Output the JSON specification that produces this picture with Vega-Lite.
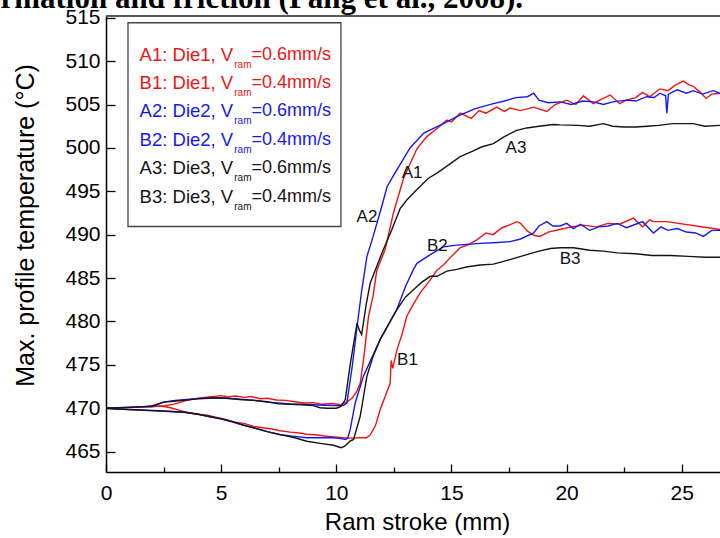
{
  "$schema": "https://vega.github.io/schema/vega-lite/v6.json",
  "width": 614,
  "height": 456,
  "autosize": "none",
  "padding": {"left": 106, "top": 16, "right": 0, "bottom": 66},
  "background": "white",
  "config": {"view": {"stroke": null}, "font": "Liberation Sans"},
  "datasets": {
    "curves": [
      {"s":"A1","x":0,"t":470.0},{"s":"A1","x":0.5,"t":470.05},{"s":"A1","x":1,"t":470.1},{"s":"A1","x":1.5,"t":470.15},{"s":"A1","x":2,"t":470.2},{"s":"A1","x":2.5,"t":470.25},{"s":"A1","x":3,"t":470.5},{"s":"A1","x":3.5,"t":470.9},{"s":"A1","x":4,"t":471.15},{"s":"A1","x":4.5,"t":471.3},{"s":"A1","x":5,"t":471.45},{"s":"A1","x":5.3,"t":471.3},{"s":"A1","x":5.6,"t":471.4},{"s":"A1","x":6,"t":471.25},{"s":"A1","x":6.3,"t":471.35},{"s":"A1","x":6.7,"t":471.1},{"s":"A1","x":7,"t":471.15},{"s":"A1","x":7.4,"t":470.95},{"s":"A1","x":7.8,"t":470.9},{"s":"A1","x":8.2,"t":470.75},{"s":"A1","x":8.6,"t":470.6},{"s":"A1","x":9,"t":470.65},{"s":"A1","x":9.4,"t":470.45},{"s":"A1","x":9.8,"t":470.55},{"s":"A1","x":10.2,"t":470.4},{"s":"A1","x":10.5,"t":470.8},{"s":"A1","x":10.7,"t":471.2},{"s":"A1","x":10.9,"t":472.0},{"s":"A1","x":11.04,"t":472.9},{"s":"A1","x":11.2,"t":476.0},{"s":"A1","x":11.4,"t":480.6},{"s":"A1","x":11.6,"t":483.0},{"s":"A1","x":11.76,"t":485.9},{"s":"A1","x":12.12,"t":488.3},{"s":"A1","x":12.48,"t":492.5},{"s":"A1","x":12.92,"t":496.5},{"s":"A1","x":13.5,"t":499.9},{"s":"A1","x":13.93,"t":501.3},{"s":"A1","x":14.4,"t":502.3},{"s":"A1","x":14.8,"t":503.2},{"s":"A1","x":15.0,"t":503.0},{"s":"A1","x":15.38,"t":504.0},{"s":"A1","x":15.86,"t":503.4},{"s":"A1","x":16.2,"t":504.3},{"s":"A1","x":16.5,"t":504.0},{"s":"A1","x":16.97,"t":504.7},{"s":"A1","x":17.3,"t":504.2},{"s":"A1","x":17.55,"t":504.6},{"s":"A1","x":18.0,"t":504.3},{"s":"A1","x":18.57,"t":504.7},{"s":"A1","x":19.14,"t":504.2},{"s":"A1","x":19.5,"t":505.0},{"s":"A1","x":20.0,"t":505.5},{"s":"A1","x":20.4,"t":505.0},{"s":"A1","x":20.73,"t":506.0},{"s":"A1","x":21.16,"t":505.1},{"s":"A1","x":21.5,"t":505.6},{"s":"A1","x":21.89,"t":506.1},{"s":"A1","x":22.3,"t":505.1},{"s":"A1","x":22.6,"t":505.5},{"s":"A1","x":23.0,"t":505.8},{"s":"A1","x":23.3,"t":506.4},{"s":"A1","x":23.6,"t":505.9},{"s":"A1","x":24.05,"t":506.8},{"s":"A1","x":24.4,"t":506.6},{"s":"A1","x":24.7,"t":507.2},{"s":"A1","x":25.07,"t":507.7},{"s":"A1","x":25.3,"t":507.3},{"s":"A1","x":25.5,"t":507.1},{"s":"A1","x":25.8,"t":506.4},{"s":"A1","x":26.06,"t":505.7},{"s":"A1","x":26.3,"t":506.2},{"s":"A1","x":26.66,"t":506.3},

      {"s":"B1","x":0,"t":470.0},{"s":"B1","x":0.5,"t":470.05},{"s":"B1","x":1,"t":470.1},{"s":"B1","x":1.5,"t":470.15},{"s":"B1","x":2,"t":470.2},{"s":"B1","x":2.4,"t":470.25},{"s":"B1","x":2.8,"t":470.05},{"s":"B1","x":3.2,"t":469.75},{"s":"B1","x":3.6,"t":469.45},{"s":"B1","x":4,"t":469.3},{"s":"B1","x":4.4,"t":469.2},{"s":"B1","x":4.8,"t":468.95},{"s":"B1","x":5.2,"t":468.7},{"s":"B1","x":5.6,"t":468.4},{"s":"B1","x":6,"t":468.25},{"s":"B1","x":6.41,"t":467.9},{"s":"B1","x":6.8,"t":467.75},{"s":"B1","x":7.2,"t":467.6},{"s":"B1","x":7.57,"t":467.4},{"s":"B1","x":8,"t":467.25},{"s":"B1","x":8.4,"t":467.15},{"s":"B1","x":8.72,"t":467.0},{"s":"B1","x":9.1,"t":466.95},{"s":"B1","x":9.5,"t":466.8},{"s":"B1","x":9.88,"t":466.7},{"s":"B1","x":10.3,"t":466.6},{"s":"B1","x":10.6,"t":466.55},{"s":"B1","x":11.0,"t":466.6},{"s":"B1","x":11.3,"t":466.6},{"s":"B1","x":11.47,"t":466.9},{"s":"B1","x":11.7,"t":468.0},{"s":"B1","x":11.9,"t":469.8},{"s":"B1","x":12.1,"t":471.2},{"s":"B1","x":12.34,"t":472.9},{"s":"B1","x":12.38,"t":475.5},{"s":"B1","x":12.45,"t":474.6},{"s":"B1","x":12.63,"t":476.7},{"s":"B1","x":12.85,"t":478.5},{"s":"B1","x":13.06,"t":480.6},{"s":"B1","x":13.35,"t":482.0},{"s":"B1","x":13.64,"t":483.3},{"s":"B1","x":14.0,"t":484.5},{"s":"B1","x":14.37,"t":485.9},{"s":"B1","x":14.65,"t":486.5},{"s":"B1","x":15.0,"t":487.5},{"s":"B1","x":15.38,"t":488.5},{"s":"B1","x":15.7,"t":488.8},{"s":"B1","x":16.1,"t":489.4},{"s":"B1","x":16.5,"t":490.2},{"s":"B1","x":16.8,"t":490.0},{"s":"B1","x":17.2,"t":490.8},{"s":"B1","x":17.5,"t":491.1},{"s":"B1","x":17.84,"t":491.5},{"s":"B1","x":18.0,"t":491.3},{"s":"B1","x":18.3,"t":490.4},{"s":"B1","x":18.6,"t":489.9},{"s":"B1","x":18.85,"t":489.8},{"s":"B1","x":19.2,"t":490.3},{"s":"B1","x":19.7,"t":490.6},{"s":"B1","x":20.2,"t":490.9},{"s":"B1","x":20.7,"t":491.1},{"s":"B1","x":21.3,"t":490.9},{"s":"B1","x":21.8,"t":491.3},{"s":"B1","x":22.3,"t":491.2},{"s":"B1","x":22.9,"t":491.9},{"s":"B1","x":23.3,"t":490.9},{"s":"B1","x":23.6,"t":491.7},{"s":"B1","x":23.77,"t":491.5},{"s":"B1","x":24.35,"t":491.5},{"s":"B1","x":26.66,"t":490.6},

      {"s":"A2","x":0,"t":470.0},{"s":"A2","x":0.5,"t":470.0},{"s":"A2","x":1,"t":470.1},{"s":"A2","x":1.5,"t":470.15},{"s":"A2","x":2,"t":470.3},{"s":"A2","x":2.5,"t":470.7},{"s":"A2","x":3,"t":470.9},{"s":"A2","x":3.5,"t":471.0},{"s":"A2","x":4,"t":471.1},{"s":"A2","x":4.5,"t":471.15},{"s":"A2","x":5,"t":471.2},{"s":"A2","x":5.5,"t":471.1},{"s":"A2","x":6,"t":471.0},{"s":"A2","x":6.5,"t":470.9},{"s":"A2","x":7,"t":470.7},{"s":"A2","x":7.5,"t":470.6},{"s":"A2","x":8,"t":470.5},{"s":"A2","x":8.5,"t":470.45},{"s":"A2","x":9,"t":470.4},{"s":"A2","x":9.5,"t":470.35},{"s":"A2","x":10,"t":470.3},{"s":"A2","x":10.3,"t":470.3},{"s":"A2","x":10.46,"t":470.6},{"s":"A2","x":10.7,"t":475.0},{"s":"A2","x":10.9,"t":479.4},{"s":"A2","x":11.1,"t":483.5},{"s":"A2","x":11.33,"t":487.5},{"s":"A2","x":11.6,"t":489.8},{"s":"A2","x":12.0,"t":493.5},{"s":"A2","x":12.2,"t":495.5},{"s":"A2","x":12.48,"t":496.8},{"s":"A2","x":13.2,"t":500.0},{"s":"A2","x":13.8,"t":501.7},{"s":"A2","x":14.65,"t":502.8},{"s":"A2","x":15.3,"t":503.7},{"s":"A2","x":16.0,"t":504.5},{"s":"A2","x":16.82,"t":505.1},{"s":"A2","x":17.3,"t":505.4},{"s":"A2","x":17.8,"t":505.8},{"s":"A2","x":18.3,"t":505.9},{"s":"A2","x":18.57,"t":506.3},{"s":"A2","x":18.8,"t":505.5},{"s":"A2","x":19.2,"t":505.2},{"s":"A2","x":19.72,"t":505.3},{"s":"A2","x":20.2,"t":505.0},{"s":"A2","x":20.7,"t":505.4},{"s":"A2","x":21.16,"t":505.3},{"s":"A2","x":21.6,"t":505.0},{"s":"A2","x":22.0,"t":505.3},{"s":"A2","x":22.61,"t":505.5},{"s":"A2","x":23.0,"t":505.4},{"s":"A2","x":23.48,"t":505.9},{"s":"A2","x":23.8,"t":505.8},{"s":"A2","x":24.05,"t":506.3},{"s":"A2","x":24.3,"t":506.0},{"s":"A2","x":24.35,"t":504.0},{"s":"A2","x":24.42,"t":506.2},{"s":"A2","x":24.8,"t":506.7},{"s":"A2","x":25.2,"t":506.3},{"s":"A2","x":25.5,"t":506.6},{"s":"A2","x":25.9,"t":506.2},{"s":"A2","x":26.37,"t":506.6},{"s":"A2","x":26.66,"t":506.3},

      {"s":"B2","x":0,"t":470.0},{"s":"B2","x":0.5,"t":469.9},{"s":"B2","x":1,"t":469.85},{"s":"B2","x":1.5,"t":469.8},{"s":"B2","x":2,"t":469.7},{"s":"B2","x":2.5,"t":469.65},{"s":"B2","x":3,"t":469.6},{"s":"B2","x":3.51,"t":469.5},{"s":"B2","x":4,"t":469.3},{"s":"B2","x":4.5,"t":469.0},{"s":"B2","x":5,"t":468.75},{"s":"B2","x":5.5,"t":468.4},{"s":"B2","x":6,"t":468.0},{"s":"B2","x":6.41,"t":467.75},{"s":"B2","x":7,"t":467.3},{"s":"B2","x":7.57,"t":466.95},{"s":"B2","x":8.2,"t":466.75},{"s":"B2","x":8.72,"t":466.6},{"s":"B2","x":9.3,"t":466.6},{"s":"B2","x":9.88,"t":466.6},{"s":"B2","x":10.2,"t":466.5},{"s":"B2","x":10.4,"t":466.4},{"s":"B2","x":10.5,"t":466.6},{"s":"B2","x":10.6,"t":467.5},{"s":"B2","x":10.82,"t":470.6},{"s":"B2","x":11.18,"t":473.7},{"s":"B2","x":11.9,"t":477.9},{"s":"B2","x":12.63,"t":481.4},{"s":"B2","x":13.0,"t":484.0},{"s":"B2","x":13.35,"t":486.0},{"s":"B2","x":13.5,"t":486.7},{"s":"B2","x":14.08,"t":487.7},{"s":"B2","x":14.65,"t":488.6},{"s":"B2","x":15.23,"t":488.8},{"s":"B2","x":16.25,"t":489.0},{"s":"B2","x":17.0,"t":489.1},{"s":"B2","x":17.55,"t":489.2},{"s":"B2","x":18.0,"t":489.5},{"s":"B2","x":18.57,"t":490.2},{"s":"B2","x":18.8,"t":491.0},{"s":"B2","x":19.14,"t":491.5},{"s":"B2","x":19.4,"t":491.0},{"s":"B2","x":19.72,"t":491.0},{"s":"B2","x":20.0,"t":491.3},{"s":"B2","x":20.3,"t":490.7},{"s":"B2","x":20.6,"t":491.2},{"s":"B2","x":21.0,"t":490.5},{"s":"B2","x":21.4,"t":490.9},{"s":"B2","x":21.8,"t":491.0},{"s":"B2","x":22.2,"t":491.3},{"s":"B2","x":22.6,"t":490.8},{"s":"B2","x":23.0,"t":491.2},{"s":"B2","x":23.3,"t":491.5},{"s":"B2","x":23.77,"t":490.2},{"s":"B2","x":24.1,"t":490.9},{"s":"B2","x":24.4,"t":490.5},{"s":"B2","x":24.8,"t":490.7},{"s":"B2","x":25.2,"t":490.3},{"s":"B2","x":25.6,"t":490.2},{"s":"B2","x":25.94,"t":489.8},{"s":"B2","x":26.3,"t":490.5},{"s":"B2","x":26.66,"t":490.5},

      {"s":"A3","x":0,"t":470.0},{"s":"A3","x":0.5,"t":470.05},{"s":"A3","x":1,"t":470.1},{"s":"A3","x":1.5,"t":470.15},{"s":"A3","x":2.0,"t":470.2},{"s":"A3","x":2.5,"t":470.7},{"s":"A3","x":2.93,"t":470.8},{"s":"A3","x":3.5,"t":470.95},{"s":"A3","x":4.0,"t":471.1},{"s":"A3","x":4.66,"t":471.2},{"s":"A3","x":5.2,"t":471.15},{"s":"A3","x":5.8,"t":471.0},{"s":"A3","x":6.4,"t":470.9},{"s":"A3","x":7.0,"t":470.75},{"s":"A3","x":7.5,"t":470.5},{"s":"A3","x":8.0,"t":470.45},{"s":"A3","x":8.5,"t":470.4},{"s":"A3","x":9.0,"t":470.3},{"s":"A3","x":9.3,"t":470.05},{"s":"A3","x":9.6,"t":470.0},{"s":"A3","x":10.0,"t":470.0},{"s":"A3","x":10.2,"t":470.2},{"s":"A3","x":10.39,"t":471.0},{"s":"A3","x":10.6,"t":475.0},{"s":"A3","x":10.9,"t":479.8},{"s":"A3","x":11.0,"t":479.0},{"s":"A3","x":11.1,"t":478.5},{"s":"A3","x":11.3,"t":482.0},{"s":"A3","x":11.47,"t":484.4},{"s":"A3","x":12.0,"t":488.0},{"s":"A3","x":12.4,"t":490.5},{"s":"A3","x":12.77,"t":493.0},{"s":"A3","x":13.06,"t":494.0},{"s":"A3","x":13.5,"t":495.2},{"s":"A3","x":14.0,"t":496.5},{"s":"A3","x":14.37,"t":497.1},{"s":"A3","x":14.8,"t":497.9},{"s":"A3","x":15.38,"t":499.0},{"s":"A3","x":15.9,"t":499.6},{"s":"A3","x":16.3,"t":500.1},{"s":"A3","x":16.82,"t":500.5},{"s":"A3","x":17.3,"t":501.3},{"s":"A3","x":17.8,"t":502.0},{"s":"A3","x":18.27,"t":502.3},{"s":"A3","x":18.8,"t":502.5},{"s":"A3","x":19.42,"t":502.7},{"s":"A3","x":19.72,"t":502.65},{"s":"A3","x":20.5,"t":502.6},{"s":"A3","x":21.0,"t":502.5},{"s":"A3","x":21.6,"t":502.8},{"s":"A3","x":22.0,"t":502.5},{"s":"A3","x":22.5,"t":502.4},{"s":"A3","x":23.0,"t":502.4},{"s":"A3","x":23.5,"t":502.5},{"s":"A3","x":24.0,"t":502.6},{"s":"A3","x":24.6,"t":502.8},{"s":"A3","x":25.0,"t":502.8},{"s":"A3","x":25.5,"t":502.8},{"s":"A3","x":26.0,"t":502.5},{"s":"A3","x":26.66,"t":502.6},

      {"s":"B3","x":0,"t":470.0},{"s":"B3","x":0.5,"t":469.9},{"s":"B3","x":1,"t":469.85},{"s":"B3","x":1.5,"t":469.8},{"s":"B3","x":2,"t":469.75},{"s":"B3","x":2.5,"t":469.7},{"s":"B3","x":3,"t":469.6},{"s":"B3","x":3.51,"t":469.5},{"s":"B3","x":4,"t":469.3},{"s":"B3","x":4.5,"t":469.05},{"s":"B3","x":5,"t":468.8},{"s":"B3","x":5.5,"t":468.45},{"s":"B3","x":6,"t":468.05},{"s":"B3","x":6.41,"t":467.73},{"s":"B3","x":7,"t":467.3},{"s":"B3","x":7.57,"t":466.96},{"s":"B3","x":8.2,"t":466.6},{"s":"B3","x":8.72,"t":466.2},{"s":"B3","x":9.3,"t":465.95},{"s":"B3","x":9.88,"t":465.73},{"s":"B3","x":10.2,"t":465.45},{"s":"B3","x":10.35,"t":465.6},{"s":"B3","x":10.6,"t":466.2},{"s":"B3","x":10.75,"t":466.4},{"s":"B3","x":11.04,"t":469.1},{"s":"B3","x":11.33,"t":473.7},{"s":"B3","x":11.6,"t":476.0},{"s":"B3","x":11.9,"t":477.9},{"s":"B3","x":12.3,"t":479.8},{"s":"B3","x":12.63,"t":481.35},{"s":"B3","x":13.0,"t":482.8},{"s":"B3","x":13.35,"t":483.65},{"s":"B3","x":13.7,"t":484.5},{"s":"B3","x":14.08,"t":485.2},{"s":"B3","x":14.37,"t":485.2},{"s":"B3","x":14.8,"t":485.8},{"s":"B3","x":15.23,"t":486.0},{"s":"B3","x":15.7,"t":486.3},{"s":"B3","x":16.25,"t":486.5},{"s":"B3","x":16.82,"t":486.6},{"s":"B3","x":17.5,"t":487.1},{"s":"B3","x":18.27,"t":487.7},{"s":"B3","x":18.8,"t":488.1},{"s":"B3","x":19.3,"t":488.4},{"s":"B3","x":19.72,"t":488.5},{"s":"B3","x":20.3,"t":488.5},{"s":"B3","x":21.0,"t":488.2},{"s":"B3","x":21.6,"t":488.1},{"s":"B3","x":22.2,"t":487.9},{"s":"B3","x":23.0,"t":487.8},{"s":"B3","x":23.7,"t":487.6},{"s":"B3","x":24.5,"t":487.6},{"s":"B3","x":25.3,"t":487.5},{"s":"B3","x":26.0,"t":487.4},{"s":"B3","x":26.66,"t":487.4}
    ],
    "labels": [
      {"label":"A1","x":13.29,"t":497.1},
      {"label":"A2","x":11.33,"t":492.0},
      {"label":"A3","x":17.8,"t":499.96},
      {"label":"B1","x":13.09,"t":475.5},
      {"label":"B2","x":14.39,"t":488.7},
      {"label":"B3","x":20.15,"t":487.2}
    ],
    "legend": [
      {"s":"A1","prefix":"A1: Die1, V","suffix":"=0.6mm/s"},
      {"s":"B1","prefix":"B1: Die1, V","suffix":"=0.4mm/s"},
      {"s":"A2","prefix":"A2: Die2, V","suffix":"=0.6mm/s"},
      {"s":"B2","prefix":"B2: Die2, V","suffix":"=0.4mm/s"},
      {"s":"A3","prefix":"A3: Die3, V","suffix":"=0.6mm/s"},
      {"s":"B3","prefix":"B3: Die3, V","suffix":"=0.4mm/s"}
    ],
    "one": [{}]
  },
  "layer": [
    {
      "layer": [
        {
          "data": {"name": "curves"},
          "mark": {"type": "line", "strokeWidth": 1.4, "clip": true},
          "encoding": {
            "x": {
              "field": "x", "type": "quantitative",
              "scale": {"domain": [0, 26.66], "nice": false, "zero": false},
              "axis": {
                "title": "Ram stroke (mm)",
                "values": [0, 2.5, 5, 7.5, 10, 12.5, 15, 17.5, 20, 22.5, 25],
                "labelExpr": "datum.value % 5 === 0 ? datum.label : ''",
                "tickSize": -8,
                "tickDash": {"condition": {"test": "datum.value % 5 !== 0", "value": [5, 30]}, "value": [8, 0]},
                "grid": false,
                "domainColor": "#000", "domainWidth": 1.5,
                "tickColor": "#000", "tickWidth": 1.3,
                "labelFont": "Liberation Sans", "labelFontSize": 21, "labelColor": "#000",
                "labelPadding": 18, "labelFlush": false,
                "titleFont": "Liberation Sans", "titleFontSize": 24, "titleFontWeight": "normal", "titleColor": "#000",
                "titleBaseline": "alphabetic", "titleY": 57, "titleX": 311
              }
            },
            "y": {
              "field": "t", "type": "quantitative",
              "scale": {"domain": [462.65, 515.2], "nice": false, "zero": false},
              "axis": {
                "title": "Max. profile temperature (°C)",
                "values": [465, 467.5, 470, 472.5, 475, 477.5, 480, 482.5, 485, 487.5, 490, 492.5, 495, 497.5, 500, 502.5, 505, 507.5, 510, 512.5, 515],
                "labelExpr": "datum.value % 5 === 0 ? datum.label : ''",
                "tickSize": -9,
                "tickDash": {"condition": {"test": "datum.value % 5 !== 0", "value": [5, 30]}, "value": [9, 0]},
                "grid": false,
                "domainColor": "#000", "domainWidth": 1.5,
                "tickColor": "#000", "tickWidth": 1.3,
                "labelFont": "Liberation Sans", "labelFontSize": 21, "labelColor": "#000",
                "labelPadding": 15, "labelFlush": false,
                "titleFont": "Liberation Sans", "titleFontSize": 25, "titleFontWeight": "normal", "titleColor": "#000",
                "titleBaseline": "alphabetic", "titleX": -73, "titleY": 209, "titleAngle": 270
              }
            },
            "color": {
              "field": "s", "type": "nominal",
              "scale": {"domain": ["A1", "B1", "A2", "B2", "A3", "B3"], "range": ["#ee1414", "#ee1414", "#1818ee", "#1818ee", "#151515", "#151515"]},
              "legend": null
            }
          }
        },
        {
          "data": {"name": "labels"},
          "mark": {"type": "text", "font": "Liberation Sans", "fontSize": 17, "color": "#111", "baseline": "middle", "align": "center"},
          "encoding": {
            "x": {"field": "x", "type": "quantitative"},
            "y": {"field": "t", "type": "quantitative"},
            "text": {"field": "label"}
          }
        },
        {
          "data": {"name": "one"},
          "mark": {"type": "rule", "color": "#222", "strokeWidth": 1.5},
          "encoding": {"y": {"datum": 515.2}}
        },
        {
          "data": {"name": "one"},
          "mark": {"type": "rect", "fillOpacity": 0, "stroke": "#444", "strokeWidth": 1.3},
          "encoding": {
            "x": {"datum": 0.955}, "x2": {"datum": 10.2},
            "y": {"datum": 514.42}, "y2": {"datum": 490.94}
          }
        },
        {
          "data": {"name": "one"},
          "mark": {"type": "text", "font": "Liberation Serif", "fontWeight": "bold", "fontSize": 31, "align": "right", "baseline": "alphabetic", "color": "#000"},
          "encoding": {
            "x": {"datum": 18.11},
            "y": {"datum": 516.17},
            "text": {"value": "deformation and friction (Pang et al., 2008)."}
          }
        }
      ]
    },
    {
      "data": {"name": "legend"},
      "encoding": {
        "y": {"field": "s", "type": "nominal", "scale": {"type": "point", "domain": ["A1", "B1", "A2", "B2", "A3", "B3"], "range": [38.5, 180.5], "padding": 0}, "axis": null},
        "color": {"field": "s", "type": "nominal", "legend": null}
      },
      "layer": [
        {
          "mark": {"type": "text", "font": "Liberation Sans", "fontSize": 18.5, "align": "left", "baseline": "middle"},
          "encoding": {"x": {"datum": 1.46}, "text": {"field": "prefix"}}
        },
        {
          "mark": {"type": "text", "font": "Liberation Sans", "fontSize": 10, "align": "left", "baseline": "middle", "dy": 10},
          "encoding": {"x": {"datum": 5.57}, "text": {"value": "ram"}}
        },
        {
          "mark": {"type": "text", "font": "Liberation Sans", "fontSize": 18, "align": "left", "baseline": "middle"},
          "encoding": {"x": {"datum": 6.32}, "text": {"field": "suffix"}}
        }
      ]
    }
  ],
  "resolve": {"scale": {"y": "independent"}}
}
